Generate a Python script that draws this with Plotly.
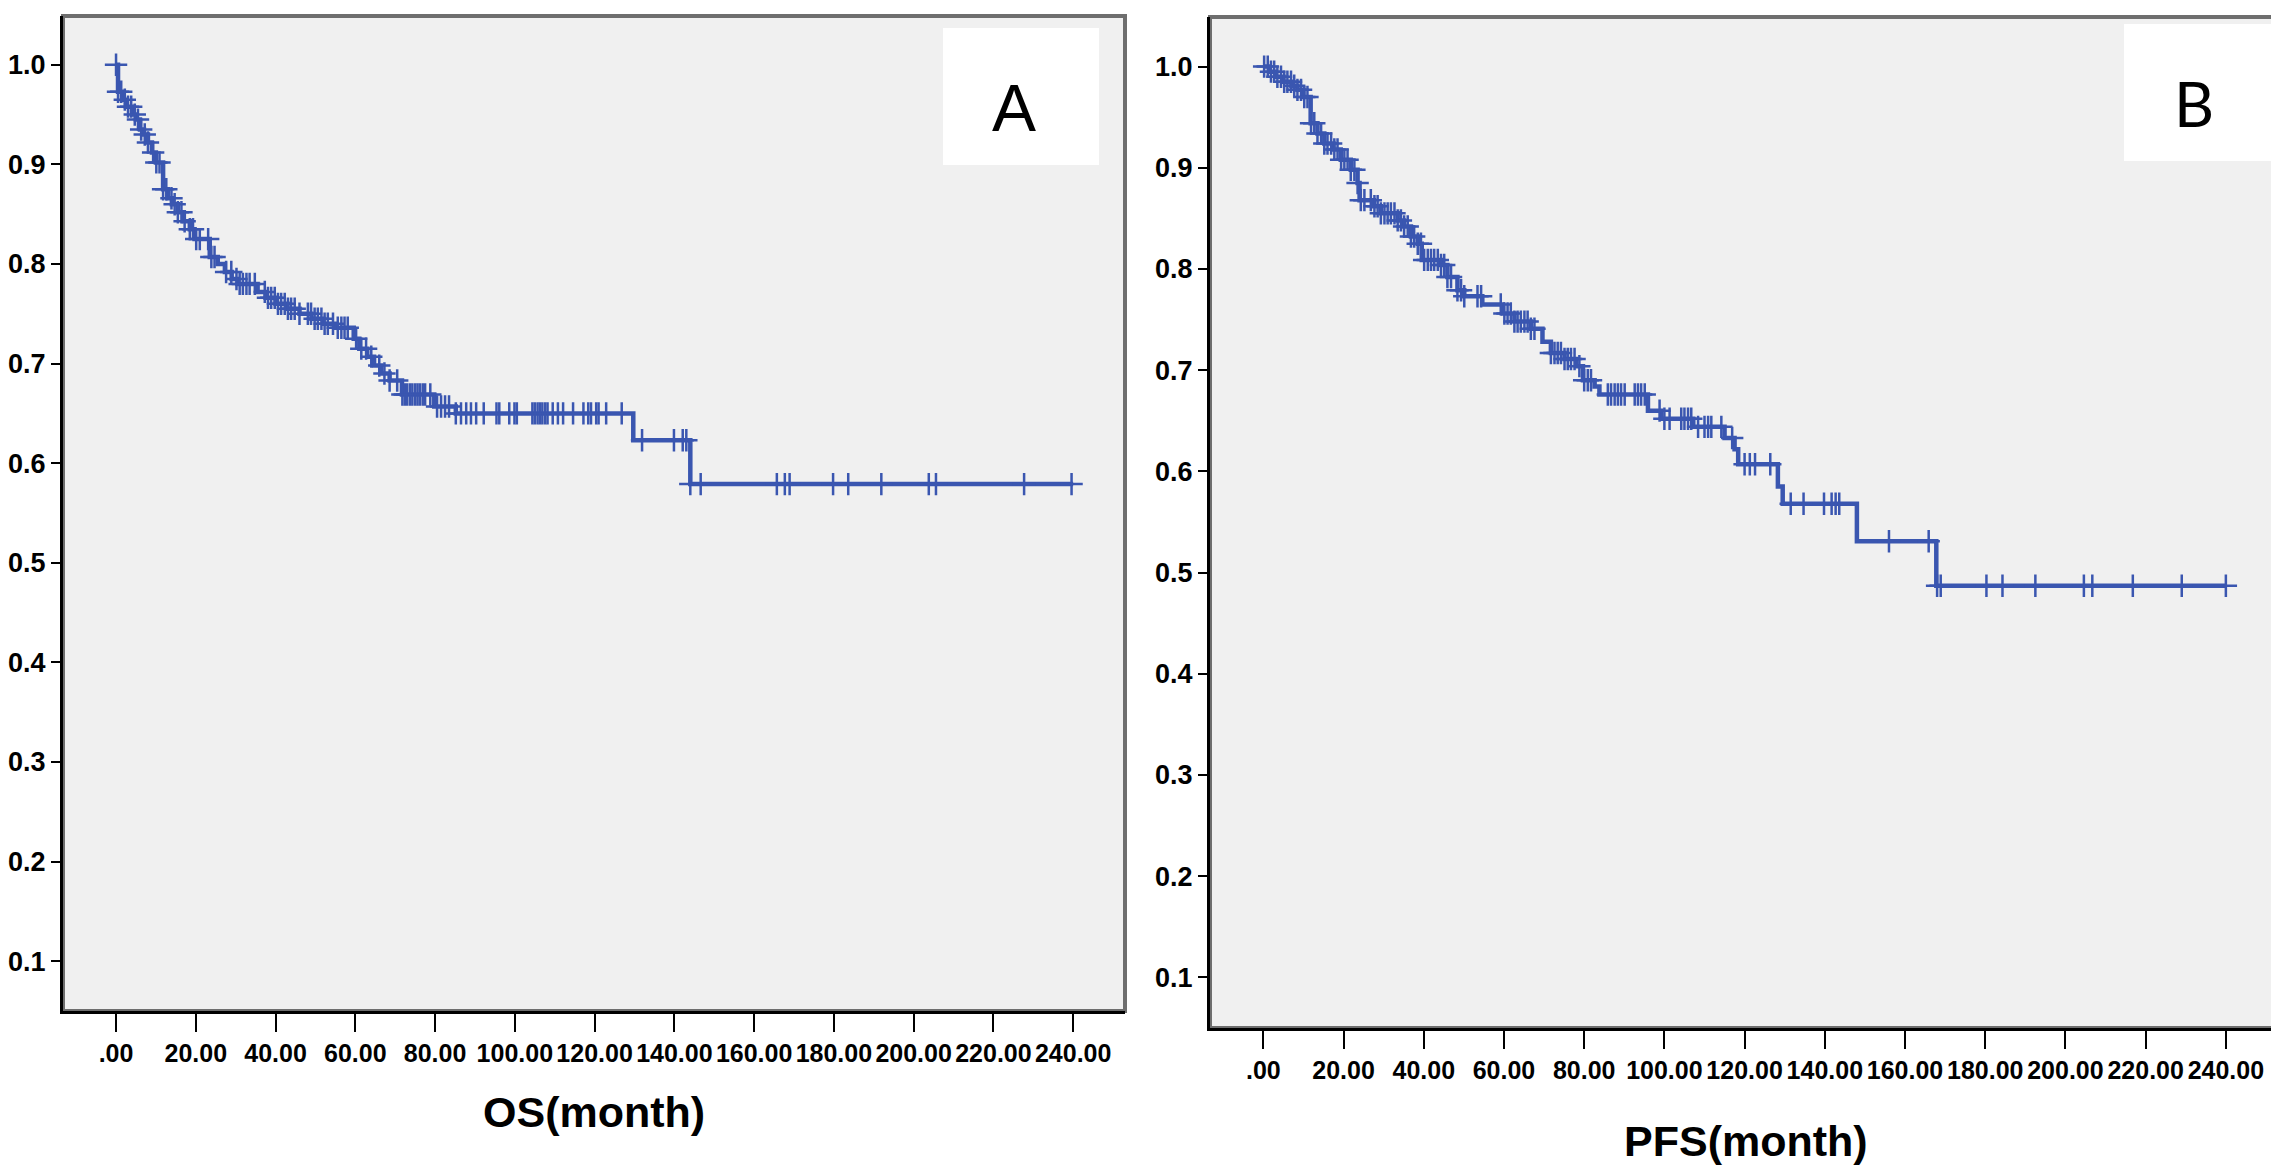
import numpy as np
import plotly.graph_objects as go
from plotly.subplots import make_subplots

# Kaplan-Meier curves (months, cumulative survival)
# Panel A: OS
os_time = [0, 0.5, 1.5, 2.5, 4.0, 5.0, 6.0, 7.0, 8.0, 9.0, 10.0, 11.8, 13.0, 14.0,
           15.5, 17.0, 18.5, 19.7, 23.5, 25.5, 27.3, 29.0, 30.5, 35.5, 37.5, 40.0,
           43.0, 46.0, 49.0, 52.0, 55.0, 59.6, 61.0, 63.0, 64.7, 66.5, 68.6, 71.7,
           79.8, 85.2, 129.7, 144.0, 240.0]
os_surv = [1.0, 0.973, 0.965, 0.958, 0.950, 0.945, 0.935, 0.930, 0.922, 0.912, 0.902,
           0.875, 0.866, 0.860, 0.852, 0.843, 0.835, 0.825, 0.807, 0.800, 0.792, 0.785,
           0.780, 0.772, 0.766, 0.760, 0.755, 0.750, 0.745, 0.740, 0.736, 0.725, 0.715,
           0.707, 0.698, 0.690, 0.683, 0.669, 0.657, 0.650, 0.623, 0.579, 0.579]
os_censor = [0.0, 0.5, 1.3, 2.2, 3.0, 3.8, 4.7, 5.5, 6.3, 7.2, 8.0, 9.3, 10.1, 10.9,
             11.8, 12.6, 13.9, 14.7, 15.5, 16.4, 17.2, 18.5, 19.3, 20.1, 21.0, 23.1,
             23.9, 24.7, 27.6, 28.9, 30.2, 31.0, 31.8, 32.7, 33.5, 34.8, 37.3, 38.1,
             38.9, 39.8, 40.6, 41.4, 42.3, 43.1, 43.9, 44.8, 46.0, 48.1, 48.9, 49.8,
             50.6, 51.5, 52.3, 53.1, 54.4, 55.6, 56.5, 57.3, 58.1, 60.2, 61.5, 62.7,
             64.0, 66.0, 67.3, 68.6, 70.5, 71.8, 72.4, 73.0, 73.7, 74.3, 75.0, 75.6,
             76.2, 76.9, 77.5, 78.8, 80.5, 81.5, 82.5, 83.5, 85.2, 86.5, 87.8, 89.0,
             90.3, 92.2, 95.4, 96.1, 98.6, 99.9, 100.5, 104.4, 105.0, 105.7, 106.3,
             106.9, 107.6, 108.2, 109.5, 110.8, 112.1, 114.6, 117.2, 118.4, 119.1,
             120.4, 121.0, 122.9, 126.8, 131.9, 139.9, 142.1, 143.0, 144.0, 146.6,
             165.7, 167.7, 168.9, 179.8, 183.6, 191.9, 203.8, 205.6, 227.7, 239.6]

# Panel B: PFS
pfs_time = [0, 1.5, 3.0, 5.0, 7.0, 8.5, 10.0, 11.8, 13.5, 15.2, 17.5, 19.3, 21.8,
            23.5, 24.0, 27.6, 29.3, 33.5, 35.1, 36.8, 38.5, 39.5, 44.3, 45.9, 48.4,
            50.1, 54.6, 59.7, 62.6, 66.7, 69.6, 71.7, 75.1, 78.0, 79.7, 82.6, 83.8,
            95.9, 99.2, 107.2, 115.0, 117.5, 118.4, 128.3, 129.5, 148.0, 167.8, 240.0]
pfs_surv = [1.0, 0.995, 0.990, 0.985, 0.981, 0.977, 0.970, 0.944, 0.934, 0.924, 0.918,
            0.908, 0.898, 0.885, 0.868, 0.862, 0.855, 0.848, 0.842, 0.832, 0.825, 0.809,
            0.804, 0.792, 0.779, 0.773, 0.765, 0.756, 0.748, 0.741, 0.728, 0.717, 0.711,
            0.704, 0.690, 0.684, 0.676, 0.660, 0.652, 0.644, 0.633, 0.622, 0.607, 0.585,
            0.568, 0.531, 0.487, 0.487]
pfs_censor = [0.2, 1.1, 1.9, 2.7, 3.5, 4.4, 5.2, 6.0, 6.9, 7.7, 8.5, 9.4, 10.2, 11.0,
              11.9, 12.7, 13.5, 14.4, 15.2, 16.0, 16.9, 17.7, 18.5, 19.4, 20.2, 21.0,
              21.8, 22.7, 23.5, 24.3, 25.2, 26.8, 27.7, 28.5, 29.3, 30.2, 31.0, 31.8,
              32.7, 33.5, 34.3, 35.1, 36.0, 36.8, 37.6, 38.5, 39.3, 40.1, 41.0, 41.8,
              42.6, 43.5, 44.3, 45.1, 45.9, 46.8, 48.4, 49.3, 50.1, 53.4, 54.3, 59.2,
              60.1, 60.9, 61.7, 62.6, 63.4, 64.2, 65.1, 65.9, 66.7, 67.6, 71.7, 72.6,
              73.4, 74.2, 75.1, 75.9, 76.7, 77.6, 78.8, 80.0, 80.9, 81.7, 85.9, 86.7,
              87.6, 88.4, 89.2, 90.1, 92.6, 93.4, 94.2, 95.1, 98.8, 100.0, 101.3, 104.2,
              105.0, 105.9, 106.7, 108.4, 110.0, 110.9, 111.7, 114.2, 116.9, 120.0,
              121.3, 122.6, 126.4, 131.5, 134.7, 139.8, 141.7, 142.7, 143.6, 156.0,
              165.9, 168.0, 168.9, 180.3, 184.3, 192.5, 204.6, 206.7, 216.8, 229.0, 240.0]

x_ticks = [0, 20, 40, 60, 80, 100, 120, 140, 160, 180, 200, 220, 240]
x_labels = [".00", "20.00", "40.00", "60.00", "80.00", "100.00", "120.00", "140.00",
            "160.00", "180.00", "200.00", "220.00", "240.00"]
y_ticks = [0.1, 0.2, 0.3, 0.4, 0.5, 0.6, 0.7, 0.8, 0.9, 1.0]
y_labels = ["0.1", "0.2", "0.3", "0.4", "0.5", "0.6", "0.7", "0.8", "0.9", "1.0"]

BLUE = "#3a56b0"
W, H = 2279, 1168


def surv_at(times, surv, t):
    # value of the step curve at each censoring time
    idx = np.searchsorted(np.array(times), np.array(t), side="right") - 1
    return np.array(surv)[idx]


fig = make_subplots(rows=1, cols=2)

for col, (t, s, c) in enumerate([(os_time, os_surv, os_censor),
                                 (pfs_time, pfs_surv, pfs_censor)], start=1):
    fig.add_trace(go.Scatter(x=t, y=s, mode="lines", line_shape="hv",
                             line=dict(color=BLUE, width=4.5),
                             showlegend=False, hoverinfo="skip"), row=1, col=col)
    fig.add_trace(go.Scatter(x=c, y=surv_at(t, s, c), mode="markers",
                             marker=dict(symbol="cross-thin", size=16,
                                         line=dict(color=BLUE, width=2.5)),
                             showlegend=False), row=1, col=col)

x_font = dict(family="Liberation Sans, Arial", size=25, color="black", weight="bold")
y_font = dict(family="Liberation Sans, Arial", size=27, color="black", weight="bold")

fig.update_xaxes(range=[-13.3, 253], tickvals=x_ticks, ticktext=x_labels, tickangle=0,
                 ticks="outside", ticklen=18, tickwidth=2, tickcolor="black",
                 showline=True, linecolor="black", linewidth=3,
                 showgrid=False, zeroline=False, tickfont=x_font)
fig.update_yaxes(range=[0.05, 1.049], tickvals=y_ticks, ticktext=y_labels,
                 ticks="outside", ticklen=9, tickwidth=2, tickcolor="black",
                 showline=True, linecolor="black", linewidth=3,
                 showgrid=False, zeroline=False, tickfont=y_font)

fig.update_layout(
    width=W, height=H,
    margin=dict(l=0, r=0, t=0, b=0),
    paper_bgcolor="white",
    plot_bgcolor="#f0f0f0",
    xaxis=dict(domain=[55 / W, 1117 / W]),
    yaxis=dict(domain=[1 - 1003 / H, 1 - 8 / H]),
    xaxis2=dict(domain=[1202 / W, 2270 / W]),
    yaxis2=dict(domain=[1 - 1020 / H, 1 - 9 / H]),
)

# grey top/right frame of each panel
for xr, yr in [("x domain", "y domain"), ("x2 domain", "y2 domain")]:
    fig.add_shape(type="rect", xref=xr, yref=yr, x0=0, x1=1, y0=0, y1=1,
                  line=dict(color="#6e6e6e", width=4), layer="below")

# white label boxes
fig.add_shape(type="rect", xref="paper", yref="paper",
              x0=935 / W, x1=1091 / W, y0=1 - 157 / H, y1=1 - 20 / H,
              fillcolor="white", line=dict(width=0), layer="below")
fig.add_shape(type="rect", xref="paper", yref="paper",
              x0=2116 / W, x1=2273 / W, y0=1 - 153 / H, y1=1 - 16 / H,
              fillcolor="white", line=dict(width=0), layer="below")

fig.add_annotation(text="A", xref="paper", yref="paper", x=1006 / W, y=1 - 100 / H,
                   xanchor="center", yanchor="middle", showarrow=False,
                   font=dict(family="Liberation Sans, Arial", size=66, color="black"))
fig.add_annotation(text="B", xref="paper", yref="paper", x=2186 / W, y=1 - 95 / H,
                   xanchor="center", yanchor="middle", showarrow=False,
                   font=dict(family="Lato, Noto Sans", size=62, color="black"))

title_font = dict(family="Liberation Sans, Arial", size=43, color="black", weight="bold")
fig.add_annotation(text="OS(month)", xref="paper", yref="paper", x=586 / W,
                   y=1 - 1104 / H, xanchor="center", yanchor="middle",
                   showarrow=False, font=title_font)
fig.add_annotation(text="PFS(month)", xref="paper", yref="paper", x=1738 / W,
                   y=1 - 1133 / H, xanchor="center", yanchor="middle",
                   showarrow=False, font=title_font)

fig.write_html("out.html")
